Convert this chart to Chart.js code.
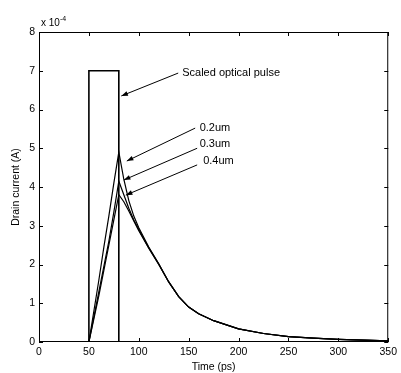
<!DOCTYPE html>
<html>
<head>
<meta charset="utf-8">
<script src="https://cdn.jsdelivr.net/npm/chart.js@4.4.0/dist/chart.umd.min.js"></script>
<style>
  html, body { margin: 0; padding: 0; background: #fff; }
  #wrap { width: 401px; height: 373px; }
</style>
</head>
<body>
<div id="wrap"><canvas id="c" width="401" height="373"></canvas></div>
<script>
// time axis (ps) shared by the three drain current curves
const timePs = [0, 50, 55, 60, 65, 70, 75, 80, 85, 90, 95, 100, 110, 120, 130, 140, 150, 160, 175, 200, 225, 250, 275, 300, 325, 350];
// drain current, units of 1e-4 A
const current02 = [0, 0, 0.8, 1.6, 2.45, 3.25, 4.1, 4.9, 4.2, 3.65, 3.25, 2.95, 2.45, 2.02, 1.55, 1.17, 0.9, 0.73, 0.55, 0.34, 0.22, 0.14, 0.1, 0.07, 0.05, 0.03];
const current03 = [0, 0, 0.65, 1.3, 1.95, 2.6, 3.35, 4.15, 3.8, 3.45, 3.15, 2.9, 2.43, 2.01, 1.55, 1.17, 0.9, 0.73, 0.55, 0.34, 0.22, 0.14, 0.1, 0.07, 0.05, 0.03];
const current04 = [0, 0, 0.6, 1.2, 1.85, 2.5, 3.15, 3.8, 3.62, 3.38, 3.12, 2.87, 2.42, 2.0, 1.55, 1.17, 0.9, 0.73, 0.55, 0.34, 0.22, 0.14, 0.1, 0.07, 0.05, 0.03];
// scaled optical pulse
const pulseT = [50, 50, 80, 80];
const pulseV = [0, 7, 7, 0];

const xTicks = [0, 50, 100, 150, 200, 250, 300, 350];
const yTicks = [0, 1, 2, 3, 4, 5, 6, 7, 8];

// annotations, placed in data units
const notes = [
  { text: 'Scaled optical pulse', tx: 143.5, ty: 6.94, from: [139.5, 6.94], to: [82.5, 6.35] },
  { text: '0.2um', tx: 161, ty: 5.52, from: [156.5, 5.52], to: [88, 4.67] },
  { text: '0.3um', tx: 161, ty: 5.11, from: [158.5, 5.0], to: [85, 4.18] },
  { text: '0.4um', tx: 164.5, ty: 4.67, from: [158.5, 4.57], to: [87, 3.79] }
];

const FONT = "'Liberation Sans', Arial, sans-serif";

function pts(xs, ys) {
  return xs.map((x, i) => ({ x: x, y: ys[i] }));
}

function line(data, w) {
  return { data: data, showLine: true, borderColor: '#000', borderWidth: w, pointRadius: 0, tension: 0, fill: false };
}

const framePlugin = {
  id: 'frame',
  afterDraw(chart) {
    const ctx = chart.ctx;
    const a = chart.chartArea;
    const xs = chart.scales.x, ys = chart.scales.y;
    ctx.save();
    ctx.strokeStyle = '#000';
    ctx.lineWidth = 1;
    ctx.strokeRect(a.left + 0.5, a.top + 0.5, a.right - a.left - 1, a.bottom - a.top - 1);
    ctx.beginPath();
    xTicks.forEach(v => {
      const px = Math.round(xs.getPixelForValue(v)) + 0.5;
      ctx.moveTo(px, a.bottom); ctx.lineTo(px, a.bottom - 4);
      ctx.moveTo(px, a.top); ctx.lineTo(px, a.top + 4);
    });
    yTicks.forEach(v => {
      const py = Math.round(ys.getPixelForValue(v)) + 0.5;
      ctx.moveTo(a.left, py); ctx.lineTo(a.left + 4, py);
      ctx.moveTo(a.right, py); ctx.lineTo(a.right - 4, py);
    });
    ctx.stroke();

    // exponent label
    ctx.fillStyle = '#000';
    ctx.textBaseline = 'alphabetic';
    ctx.font = '10px ' + FONT;
    ctx.fillText('x 10', a.left + 2, a.top - 6);
    ctx.font = '7px ' + FONT;
    ctx.fillText('-4', a.left + 21, a.top - 11);

    // annotations with arrows
    ctx.font = '11px ' + FONT;
    ctx.textBaseline = 'middle';
    notes.forEach(n => {
      ctx.fillText(n.text, xs.getPixelForValue(n.tx), ys.getPixelForValue(n.ty));
      const x1 = xs.getPixelForValue(n.from[0]), y1 = ys.getPixelForValue(n.from[1]);
      const x2 = xs.getPixelForValue(n.to[0]), y2 = ys.getPixelForValue(n.to[1]);
      ctx.beginPath();
      ctx.moveTo(x1, y1); ctx.lineTo(x2, y2);
      ctx.stroke();
      const ang = Math.atan2(y2 - y1, x2 - x1);
      ctx.beginPath();
      ctx.moveTo(x2, y2);
      ctx.lineTo(x2 - 7 * Math.cos(ang - 0.35), y2 - 7 * Math.sin(ang - 0.35));
      ctx.lineTo(x2 - 7 * Math.cos(ang + 0.35), y2 - 7 * Math.sin(ang + 0.35));
      ctx.closePath();
      ctx.fill();
    });
    ctx.restore();
  }
};

new Chart(document.getElementById('c'), {
  type: 'scatter',
  data: {
    datasets: [
      line(pts(pulseT, pulseV), 1.6),
      line(pts(timePs, current02), 1.2),
      line(pts(timePs, current03), 1.2),
      line(pts(timePs, current04), 1.2)
    ]
  },
  options: {
    responsive: false,
    animation: false,
    layout: { padding: { top: 32, right: 8, left: 0, bottom: 0 } },
    plugins: { legend: { display: false }, tooltip: { enabled: false } },
    scales: {
      x: {
        type: 'linear', min: 0, max: 350,
        afterBuildTicks: s => { s.ticks = xTicks.map(v => ({ value: v })); },
        afterFit: s => { s.height = 31; },
        grid: { display: false, drawTicks: false },
        border: { display: false },
        ticks: { color: '#000', padding: 4, maxRotation: 0, font: { family: FONT, size: 10.5 } },
        title: { display: true, text: 'Time (ps)', color: '#000', padding: { top: 4, bottom: 0 }, font: { family: FONT, size: 10.5 } }
      },
      y: {
        type: 'linear', min: 0, max: 8,
        afterBuildTicks: s => { s.ticks = yTicks.map(v => ({ value: v })); },
        afterFit: s => { s.width = 39; },
        grid: { display: false, drawTicks: false },
        border: { display: false },
        ticks: { color: '#000', padding: 4, font: { family: FONT, size: 10.5 } },
        title: { display: true, text: 'Drain current (A)', color: '#000', padding: { top: 10, bottom: 0 }, font: { family: FONT, size: 10.5 } }
      }
    }
  },
  plugins: [framePlugin]
});
</script>
</body>
</html>
